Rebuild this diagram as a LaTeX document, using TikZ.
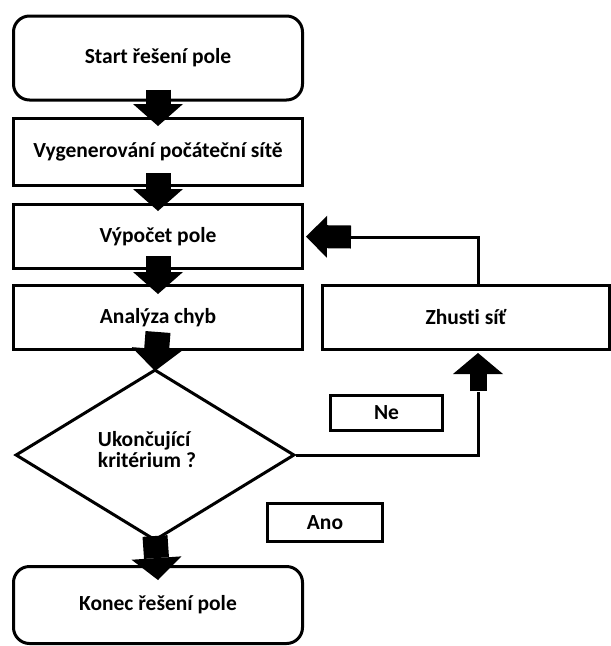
\documentclass[tikz,border=0pt]{standalone}
\usepackage{fontspec}
\setmainfont[Ligatures=NoCommon]{Carlito}
\usetikzlibrary{shapes.geometric,arrows.meta}

\tikzset{
  txt/.style={font=\bfseries\fontsize{21.5}{21}\selectfont},
  box/.style={draw, line width=3pt, txt, minimum width=289pt, minimum height=64pt, inner sep=0pt},
  term/.style={box, rounded corners=16pt},
  dec/.style={draw, diamond, line width=3pt, minimum width=279pt, minimum height=171pt, inner sep=0pt},
  tag/.style={draw, line width=3pt, txt, minimum height=35pt, inner sep=0pt},
  link/.style={line width=3pt},
  blk/.style={line width=25pt, -{Triangle[length=22pt,width=50pt,line width=0pt]}},
  blkup/.style={line width=17pt, -{Triangle[length=21pt,width=50pt,line width=0pt]}},
  blkleft/.style={line width=23pt, -{Triangle[length=21pt,width=42pt,line width=0pt]}},
}

\begin{document}
\begin{tikzpicture}[x=1pt,y=-1pt]
\useasboundingbox (0,0) rectangle (611,646);

\node[term, minimum height=84pt] (start) at (158,58) {Start řešení pole};
\node[box, minimum height=67pt] (gen) at (158,152) {Vygenerování počáteční sítě};
\node[box] (vyp) at (158,236.5) {Výpočet pole};
\node[box] (anal) at (158,317.5) {Analýza chyb};
\node[box, minimum width=287pt] (zhusti) at (466,317.5) {Zhusti síť};
\node[dec] (dia) at (155,455) {};
\node[txt, align=left] (crit) at (147,450) {Ukončující\\kritérium ?};
\node[tag, minimum width=112pt] (ne) at (386.5,412.5) {Ne};
\node[tag, minimum width=115pt, minimum height=38pt] (ano) at (325,522.5) {Ano};
\node[term, minimum height=77pt] (konec) at (158,605) {Konec řešení pole};

% main flow
\draw[blk] ([yshift=12pt]start.south) -- ([yshift=-9pt]gen.north);
\draw[blk] ([yshift=14pt]gen.south) -- ([yshift=-8pt]vyp.north);
\draw[blk] ([yshift=14pt]vyp.south) -- ([yshift=-10pt]anal.north);
\draw[blk] ([yshift=19pt]anal.south) -- ([yshift=-3pt]dia.north);
\draw[blk] ([yshift=6pt]dia.south) -- ([yshift=-15pt]konec.north);

% branch Ne
\coordinate (up) at (478,392);
\draw[link] (dia.east) -| (up);
\draw[blkup] ([yshift=1pt]up) -- ([yshift=-2pt]zhusti.south -| up);

% back to Vypocet
\coordinate (back) at (350,237);
\draw[link] (zhusti.north -| up) |- (back);
\draw[blkleft] ([xshift=1pt]back) -- ([xshift=2pt]vyp.east);
\end{tikzpicture}
\end{document}
